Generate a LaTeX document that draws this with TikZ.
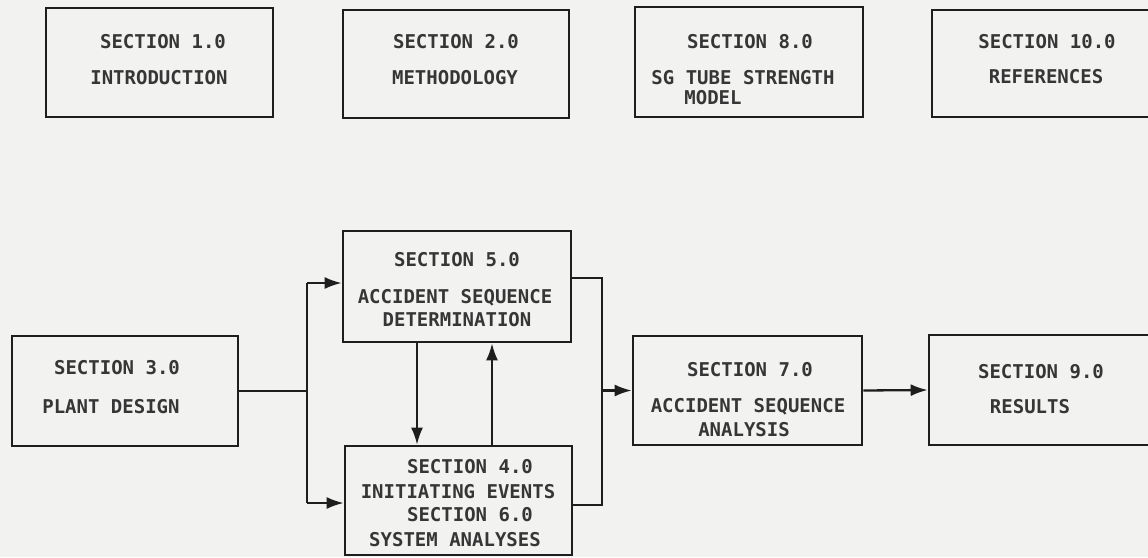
\documentclass[tikz,border=0pt]{standalone}
\usepackage{fontspec}
\setmonofont{DejaVu Sans Mono}
\usetikzlibrary{arrows.meta}
\definecolor{bg}{HTML}{F2F2F1}
\definecolor{ink}{HTML}{1E1E1E}
\definecolor{txt}{HTML}{363636}
\begin{document}
\begin{tikzpicture}[x=1pt,y=-1pt,
  box/.style={draw=ink, line width=2.6pt, inner sep=0pt},
  lbl/.style={font=\ttfamily\bfseries\fontsize{19}{22}\selectfont, text=txt, inner sep=0pt},
  conn/.style={draw=ink, line width=2.3pt},
  arr/.style={conn, -{Latex[length=17pt,width=12pt]}}]
\clip (0,0) rectangle (1148,557);
\fill[bg] (0,0) rectangle (1148,557);

% boxes
\node[box, minimum width=227pt, minimum height=109pt] (b1) at (159.5,62.5) {};
\node[box, minimum width=226pt, minimum height=108pt] (b2) at (456,64) {};
\node[box, minimum width=228pt, minimum height=110pt] (b8) at (749,62) {};
\node[box, minimum width=230pt, minimum height=107pt] (b10) at (1047,63.5) {};
\node[box, minimum width=228pt, minimum height=111pt] (b5) at (457,286.5) {};
\node[box, minimum width=226pt, minimum height=110pt] (b3) at (125,391) {};
\node[box, minimum width=227pt, minimum height=109pt] (b4) at (458.5,500.5) {};
\node[box, minimum width=229pt, minimum height=109pt] (b7) at (747.5,390.5) {};
\node[box, minimum width=226pt, minimum height=110pt] (b9) at (1042,390) {};

% labels
\node[lbl] (l1a) at (163,42) {SECTION 1.0};
\node[lbl] (l1b) at (159,78) {INTRODUCTION};
\node[lbl] (l2a) at (456,42) {SECTION 2.0};
\node[lbl] (l2b) at (455,78) {METHODOLOGY};
\node[lbl] (l8a) at (750,42) {SECTION 8.0};
\node[lbl] (l8b) at (743,78) {SG TUBE STRENGTH};
\node[lbl] (l8c) at (713,98) {MODEL};
\node[lbl] (l10a) at (1047,42) {SECTION 10.0};
\node[lbl] (l10b) at (1046,77) {REFERENCES};
\node[lbl] (l5a) at (457,260) {SECTION 5.0};
\node[lbl] (l5b) at (455,298) {ACCIDENT SEQUENCE};
\node[lbl] (l5c) at (457,320) {DETERMINATION};
\node[lbl] (l3a) at (117,368) {SECTION 3.0};
\node[lbl] (l3b) at (111,407) {PLANT DESIGN};
\node[lbl] (l4a) at (470,467) {SECTION 4.0};
\node[lbl] (l4b) at (458,492) {INITIATING EVENTS};
\node[lbl] (l4c) at (470,515) {SECTION 6.0};
\node[lbl] (l4d) at (455,540) {SYSTEM ANALYSES};
\node[lbl] (l7a) at (750,370) {SECTION 7.0};
\node[lbl] (l7b) at (748,407) {ACCIDENT SEQUENCE};
\node[lbl] (l7c) at (744,430) {ANALYSIS};
\node[lbl] (l9a) at (1041,372) {SECTION 9.0};
\node[lbl] (l9b) at (1030,407) {RESULTS};

% connectors
\coordinate (j1) at (307,391);
\coordinate (t5) at (307,283);
\coordinate (t4) at (307,503);
\coordinate (dn) at (417,0);
\coordinate (up) at (492,0);
\coordinate (r5) at (602,278);
\coordinate (r4) at (602,505);

\draw[conn] (b3.east) -- (j1);
\draw[conn] (t5) -- (t4);
\draw[arr] (t5) -- (b5.west |- t5);
\draw[arr] (t4) -- (b4.west |- t4);
\draw[arr] (dn |- b5.south) -- (dn |- b4.north);
\draw[arr] (up |- b4.north) -- (up |- b5.south);
\draw[conn] (b5.east |- r5) -- (r5) -- (r4) -- (b4.east |- r4);
\draw[arr] (r5 |- b7.west) -- (b7.west);
\draw[arr] (b7.east) -- (b9.west);
\end{tikzpicture}
\end{document}
